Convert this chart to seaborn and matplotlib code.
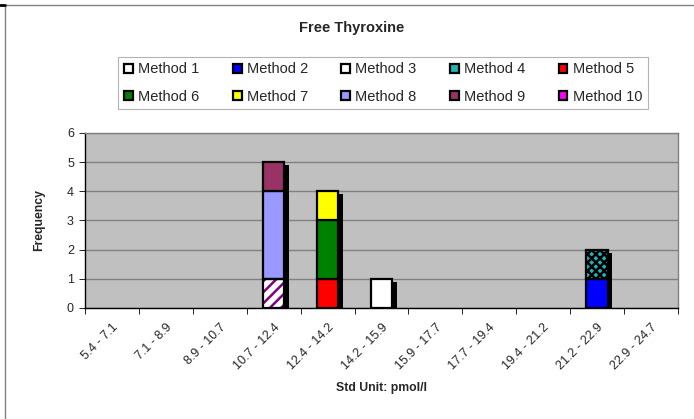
import matplotlib
matplotlib.use("Agg")
import matplotlib.pyplot as plt
from matplotlib.patches import Patch
from matplotlib.lines import Line2D
import numpy as np
import seaborn as sns

# Dados
bins = ["5.4 - 7.1", "7.1 - 8.9", "8.9 - 10.7", "10.7 - 12.4", "12.4 - 14.2",
        "14.2 - 15.9", "15.9 - 17.7", "17.7 - 19.4", "19.4 - 21.2",
        "21.2 - 22.9", "22.9 - 24.7"]
methods = ["Method 1", "Method 2", "Method 3", "Method 4", "Method 5",
           "Method 6", "Method 7", "Method 8", "Method 9", "Method 10"]
counts = {
    "Method 1": [0, 0, 0, 0, 0, 1, 0, 0, 0, 0, 0],
    "Method 2": [0, 0, 0, 0, 0, 0, 0, 0, 0, 1, 0],
    "Method 3": [0, 0, 0, 1, 0, 0, 0, 0, 0, 0, 0],
    "Method 4": [0, 0, 0, 0, 0, 0, 0, 0, 0, 1, 0],
    "Method 5": [0, 0, 0, 0, 1, 0, 0, 0, 0, 0, 0],
    "Method 6": [0, 0, 0, 0, 2, 0, 0, 0, 0, 0, 0],
    "Method 7": [0, 0, 0, 0, 1, 0, 0, 0, 0, 0, 0],
    "Method 8": [0, 0, 0, 3, 0, 0, 0, 0, 0, 0, 0],
    "Method 9": [0, 0, 0, 1, 0, 0, 0, 0, 0, 0, 0],
    "Method 10": [0, 0, 0, 0, 0, 0, 0, 0, 0, 0, 0],
}

# estilo de cada série: (cor de fundo, hachura, cor da hachura)
styles = {
    "Method 1": ("#FFFFFF", None, None),
    "Method 2": ("#0000FF", None, None),
    "Method 3": ("#FFFFFF", "///", "#800080"),
    "Method 4": ("#1FB5B5", "xxxx", "#000000"),
    "Method 5": ("#FF0000", None, None),
    "Method 6": ("#008000", None, None),
    "Method 7": ("#FFFF00", None, None),
    "Method 8": ("#9999FF", None, None),
    "Method 9": ("#993366", None, None),
    "Method 10": ("#FF00FF", None, None),
}

sns.set_theme(style="white")
plt.rcParams["font.family"] = ["Liberation Sans", "DejaVu Sans"]
plt.rcParams["hatch.linewidth"] = 1.8

fig = plt.figure(figsize=(6.94, 4.19), dpi=100)
ax = fig.add_axes([0.1225, 0.265, 0.977 - 0.1225, 0.6826 - 0.265])
ax.set_facecolor("#C0C0C0")

x = np.arange(len(bins))
width = 0.4
totals = np.sum([counts[m] for m in methods], axis=0)

# sombra das colunas
mask = totals > 0
ax.bar(x[mask] + 0.08, totals[mask] - 0.1, width=width, color="black",
       linewidth=0, zorder=2)

bottom = np.zeros(len(bins))
for m in methods:
    vals = np.array(counts[m], dtype=float)
    face, hatch, hcol = styles[m]
    sel = vals > 0
    if sel.any():
        if hatch:
            ax.bar(x[sel], vals[sel], bottom=bottom[sel], width=width,
                   color=face, edgecolor=hcol, hatch=hatch, linewidth=0,
                   zorder=3)
            ax.bar(x[sel], vals[sel], bottom=bottom[sel], width=width,
                   fill=False, edgecolor="black", linewidth=1.6, zorder=4)
        else:
            ax.bar(x[sel], vals[sel], bottom=bottom[sel], width=width,
                   color=face, edgecolor="black", linewidth=1.6, zorder=3)
    bottom += vals

ax.set_xlim(-0.5, len(bins) - 0.5)
ax.set_ylim(0, 6)
ax.set_yticks(range(7))
ax.set_xticks(x)
ax.set_xticklabels(bins, rotation=45, ha="right", rotation_mode="anchor",
                   fontsize=9)
ax.set_xticks(np.arange(-0.5, len(bins) + 0.5, 1), minor=True)
ax.tick_params(axis="x", which="major", length=0, pad=10)
ax.tick_params(axis="x", which="minor", length=4, color="black", width=0.6,
               direction="out", bottom=True)
ax.tick_params(axis="y", length=4, color="black", width=0.6, left=True,
               labelsize=9, pad=4)
ax.grid(axis="y", color="#808080", linewidth=1)
ax.set_axisbelow(True)

for side in ["top", "right"]:
    ax.spines[side].set_color("#808080")
    ax.spines[side].set_linewidth(1)
for side in ["left", "bottom"]:
    ax.spines[side].set_color("black")
    ax.spines[side].set_linewidth(1)

ax.set_xlabel("Std Unit: pmol/l", fontsize=8.8, fontweight="bold", labelpad=7)
ax.set_ylabel("Frequency", fontsize=8.8, fontweight="bold", labelpad=16)

fig.text(0.507, 1 - 28 / 419, "Free Thyroxine", ha="center", va="center",
         fontsize=10.5, fontweight="bold")

# legenda preenchida por linhas (matplotlib preenche por colunas)
ncol = 5
order = [r * ncol + c for c in range(ncol) for r in range(2)]
handles = []
labels = []
for i in order:
    m = methods[i]
    face, hatch, hcol = styles[m]
    handles.append(Patch(facecolor=face, edgecolor="black", linewidth=1.6))
    labels.append(m)
leg = fig.legend(handles, labels, loc="center", ncol=ncol,
                 bbox_to_anchor=(0.552, 1 - 83 / 419), fontsize=10.5,
                 frameon=True, fancybox=False, handlelength=0.6,
                 handleheight=0.6, handletextpad=0.35, columnspacing=2.3,
                 borderpad=0.4, labelspacing=0.9)
leg.get_frame().set_edgecolor("#A0A0A0")
leg.get_frame().set_linewidth(0.8)

# moldura externa
fig.add_artist(Line2D([5 / 694, 1], [1 - 5 / 419, 1 - 5 / 419],
                      color="#808080", linewidth=1))
fig.add_artist(Line2D([5 / 694, 5 / 694], [0, 1 - 5 / 419],
                      color="#808080", linewidth=1))
fig.add_artist(Line2D([0, 5 / 694], [1 - 5 / 419, 1 - 5 / 419],
                      color="black", linewidth=2))

fig.savefig("out.png", dpi=100)
